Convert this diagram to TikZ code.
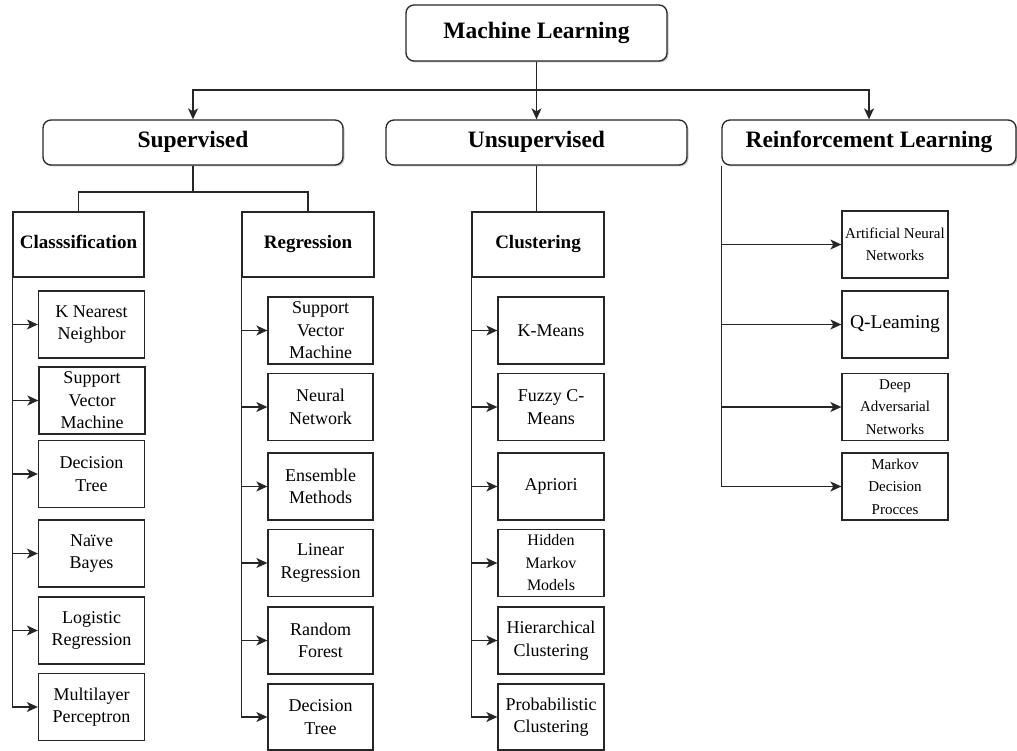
\documentclass[tikz,border=0pt]{standalone}
\usepackage{fontspec}
\setmainfont{Liberation Serif}
\usetikzlibrary{arrows.meta,shadows}
\begin{document}
\begin{tikzpicture}[x=1pt,y=-1pt,
  conn/.style={draw=black!85, line width=1.3pt},
  arr/.style={conn, -{Stealth[length=11pt,width=10pt,inset=3pt]}},
  topbox/.style={draw=black!85, line width=1.3pt, rounded corners=8pt, fill=white,
    drop shadow={shadow xshift=1.5pt, shadow yshift=-1.5pt, opacity=0.35, fill=black!60},
    inner sep=0pt, text height=16pt, text depth=5pt,
    font=\fontsize{23.5}{28}\selectfont\bfseries},
  catbox/.style={draw=black!85, line width=1.3pt, fill=white, inner sep=0pt,
    minimum height=65pt, text height=13pt, text depth=4pt,
    font=\fontsize{19}{23}\selectfont\bfseries},
  leaf/.style={draw=black!85, line width=1.3pt, fill=white, inner sep=0pt,
    minimum width=106pt, minimum height=67pt, align=center,
    font=\fontsize{18}{22.5}\selectfont},
  smallleaf/.style={leaf, font=\fontsize{15}{22.5}\selectfont},
]
\useasboundingbox (0,0) rectangle (1017,751);

% top level
\node[topbox, minimum width=261pt, minimum height=56pt] (ml) at (536.5,33) {Machine Learning};
\node[topbox, minimum width=300pt, minimum height=45pt] (sup) at (193,142.5) {Supervised};
\node[topbox, minimum width=301pt, minimum height=45pt] (uns) at (536.5,142.5) {Unsupervised};
\node[topbox, minimum width=294pt, minimum height=45pt] (rl) at (869,142.5) {Reinforcement Learning};

% second level
\node[catbox, minimum width=131pt] (cls) at (78.5,244.5) {Classsification};
\node[catbox, minimum width=132pt] (reg) at (308,244.5) {Regression};
\node[catbox, minimum width=132pt] (clu) at (538,244.5) {Clustering};

% classification methods
\node[leaf] (knn)  at (91.5,324.5) {K Nearest\\Neighbor};
\node[leaf] (svmc) at (92,400.5)   {Support\\Vector\\Machine};
\node[leaf] (dtc)  at (91.5,474)   {Decision\\Tree};
\node[leaf] (nb)   at (91.5,553.5) {Naïve\\Bayes};
\node[leaf] (logr) at (91.5,630.5) {Logistic\\Regression};
\node[leaf] (mlp)  at (91.5,707)   {Multilayer\\Perceptron};

% regression methods
\node[leaf, minimum width=105pt] (svmr) at (320.5,330.5) {Support\\Vector\\Machine};
\node[leaf, minimum width=105pt] (nn)   at (320.5,407)   {Neural\\Network};
\node[leaf, minimum width=105pt] (ens)  at (320.5,486.5) {Ensemble\\Methods};
\node[leaf, minimum width=105pt] (linr) at (320.5,563)   {Linear\\Regression};
\node[leaf, minimum width=105pt] (rf)   at (320.5,640.5) {Random\\Forest};
\node[leaf, minimum width=105pt, minimum height=66pt] (dtr) at (320.5,717) {Decision\\Tree};

% clustering methods
\node[leaf] (km)   at (551,330.5) {K-Means};
\node[leaf] (fcm)  at (551,407)   {Fuzzy C-\\Means};
\node[leaf] (apr)  at (551,486.5) {Apriori};
\node[leaf, font=\fontsize{16}{22.5}\selectfont] (hmm) at (551,563) {Hidden\\Markov\\Models};
\node[leaf] (hc)   at (551,640.5) {Hierarchical\\Clustering};
\node[leaf, minimum height=66pt] (pc) at (551,717) {Probabilistic\\Clustering};

% reinforcement learning methods
\node[smallleaf] (ann) at (895,244.5) {Artificial Neural\\Networks};
\node[leaf, font=\fontsize{19.5}{23}\selectfont] (ql) at (895,324.5) {Q-Leaming};
\node[smallleaf] (dan) at (895,407)   {Deep\\Adversarial\\Networks};
\node[smallleaf] (mdp) at (895,486.5) {Markov\\Decision\\Procces};

% connectors from the root
\coordinate (mlsplit) at (536.5,90);
\draw[conn] (ml.south) -- (mlsplit);
\draw[arr] (mlsplit) -| (sup.north);
\draw[arr] (mlsplit) -- (uns.north);
\draw[arr] (mlsplit) -| (rl.north);

% supervised split
\coordinate (supsplit) at (193,192);
\draw[conn] (sup.south) -- (supsplit);
\draw[conn] (supsplit) -| (cls.north);
\draw[conn] (supsplit) -| (reg.north);
\draw[conn] (uns.south) -- (uns.south |- clu.north);

% method trunks: one vertical line per column, then a branch arrow per method
\draw[conn] (cls.south west) -- (cls.south west |- mlp.west);
\foreach \m in {knn,svmc,dtc,nb,logr,mlp}
  \draw[arr] (cls.south west |- \m.west) -- (\m.west);
\draw[conn] (reg.south west) -- (reg.south west |- dtr.west);
\foreach \m in {svmr,nn,ens,linr,rf,dtr}
  \draw[arr] (reg.south west |- \m.west) -- (\m.west);
\draw[conn] (clu.south west) -- (clu.south west |- pc.west);
\foreach \m in {km,fcm,apr,hmm,hc,pc}
  \draw[arr] (clu.south west |- \m.west) -- (\m.west);
\draw[conn] (rl.south west) -- (rl.south west |- mdp.west);
\foreach \m in {ann,ql,dan,mdp}
  \draw[arr] (rl.south west |- \m.west) -- (\m.west);
\end{tikzpicture}
\end{document}
